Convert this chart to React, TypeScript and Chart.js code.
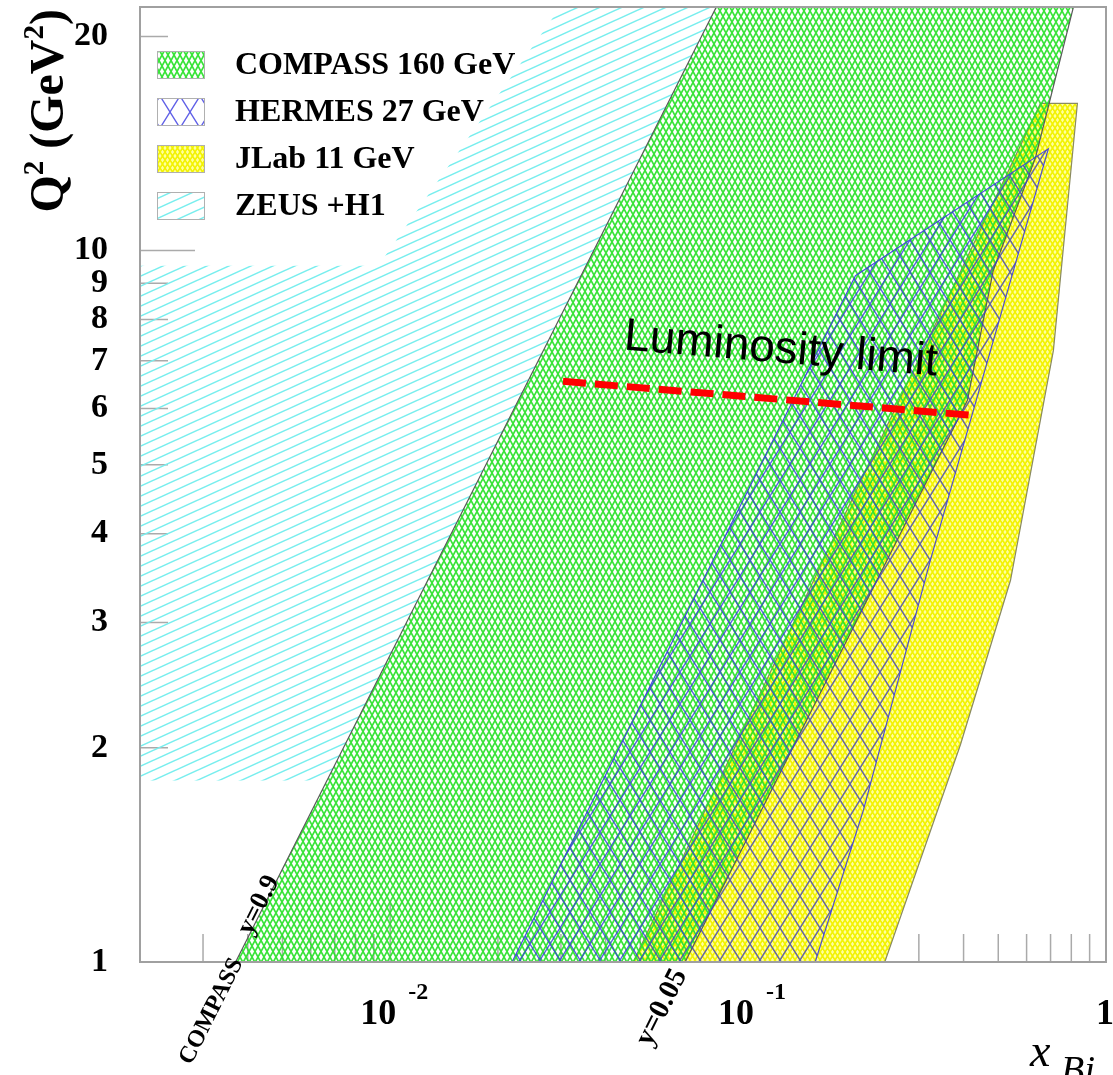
import React, { useEffect, useRef } from "react";
import { Chart, registerables } from "chart.js";

Chart.register(...registerables);

// ---------- axis ranges ----------
const xRange = [0.002, 1];
const q2Range = [1, 22];

// ---------- ticks ----------
const yTickValues = [1, 2, 3, 4, 5, 6, 7, 8, 9, 10, 20];
const yTickLabels = ["1", "2", "3", "4", "5", "6", "7", "8", "9", "10", "20"];
const yMajorTicks = [1, 10];
const xMajorTicks = [0.01, 0.1, 1];
const xMajorLabelBase = ["10", "10", "1"];
const xMajorLabelExp = ["-2", "-1", ""];
const xMinorTicks = [
  0.003, 0.004, 0.005, 0.006, 0.007, 0.008, 0.009,
  0.02, 0.03, 0.04, 0.05, 0.06, 0.07, 0.08, 0.09,
  0.2, 0.3, 0.4, 0.5, 0.6, 0.7, 0.8, 0.9,
];

// ---------- series (polygon outlines, x_Bj vs Q^2) ----------
const seriesNames = ["COMPASS 160 GeV", "HERMES 27 GeV", "JLab 11 GeV", "ZEUS +H1"];

const compassX = [0.0037, 0.0815, 0.811, 0.635, 0.484, 0.41, 0.0667, 0.0037];
const compassQ2 = [1, 22, 22, 13.5, 9.37, 6.16, 1, 1];

const hermesX = [0.0219, 0.1995, 0.69, 0.323, 0.21, 0.154, 0.0219];
const hermesQ2 = [1, 9.22, 13.9, 3.67, 1.635, 1, 1];

const jlabX = [0.0478, 0.08, 0.162, 0.656, 0.832, 0.713, 0.541, 0.392, 0.241, 0.0478];
const jlabQ2 = [1, 1.73, 3.67, 16.1, 16.1, 7.24, 3.44, 2.02, 1, 1];

const zeusX = [0.002, 0.002, 0.00926, 0.0299, 0.0815, 0.00667, 0.002];
const zeusQ2 = [1.8, 9.52, 9.52, 22, 22, 1.8, 1.8];

const lumiX = [0.0304, 0.418];
const lumiQ2 = [6.55, 5.87];

// ---------- annotation texts ----------
const compassLabel = "COMPASS";
const compassLabelAt = [0.0027, 0.72];
const y09Label = "y=0.9";
const y09LabelAt = [0.00404, 1.09];
const y005Label = "y=0.05";
const y005LabelAt = [0.0515, 0.765];
const lumiLabel = "Luminosity limit";
const lumiLabelAt = [0.0448, 7.26];

const SERIF = '"Liberation Serif", "Times New Roman", serif';

function pts(xs: number[], ys: number[]) {
  return xs.map((x, i) => ({ x, y: ys[i] }));
}

function crossHatch(ctx: CanvasRenderingContext2D, w: number, h: number, color: string, lw: number, bg?: string) {
  const c = document.createElement("canvas");
  c.width = w;
  c.height = h;
  const g = c.getContext("2d")!;
  if (bg) {
    g.fillStyle = bg;
    g.fillRect(0, 0, w, h);
  }
  g.strokeStyle = color;
  g.lineWidth = lw;
  g.beginPath();
  g.moveTo(-w, -h);
  g.lineTo(2 * w, 2 * h);
  g.moveTo(2 * w, -h);
  g.lineTo(-w, 2 * h);
  g.stroke();
  return ctx.createPattern(c, "repeat")!;
}

function hatch(ctx: CanvasRenderingContext2D, w: number, h: number, color: string, lw: number) {
  const c = document.createElement("canvas");
  c.width = w;
  c.height = h;
  const g = c.getContext("2d")!;
  g.strokeStyle = color;
  g.lineWidth = lw;
  g.beginPath();
  for (const dy of [-h, 0, h]) {
    g.moveTo(-w, 2 * h + dy);
    g.lineTo(2 * w, -h + dy);
  }
  g.stroke();
  return ctx.createPattern(c, "repeat")!;
}

export default function App() {
  const ref = useRef<HTMLCanvasElement | null>(null);

  useEffect(() => {
    const canvas = ref.current!;
    const ctx0 = canvas.getContext("2d")!;
    const pGreen = crossHatch(ctx0, 6, 11, "rgba(40,225,40,0.92)", 1.7);
    const pBlue = crossHatch(ctx0, 20, 32, "rgba(55,55,225,0.8)", 1.4);
    const pYellow = crossHatch(ctx0, 5, 8, "#f2f200", 1.6, "#ffff9c");
    const pCyan = hatch(ctx0, 22, 10, "#78eeee", 1.5);
    const legendFills = [pGreen, pBlue, pYellow, pCyan];

    const overlay = {
      id: "overlay",
      beforeDatasetsDraw(chart: any) {
        const { ctx, chartArea: a } = chart;
        const xs = chart.scales.x;
        const ys = chart.scales.y;
        ctx.save();
        ctx.strokeStyle = "#aaaaaa";
        ctx.lineWidth = 1.5;
        ctx.beginPath();
        for (const v of xMinorTicks) {
          const px = xs.getPixelForValue(v);
          ctx.moveTo(px, a.bottom);
          ctx.lineTo(px, a.bottom - 28);
        }
        for (const v of xMajorTicks) {
          const px = xs.getPixelForValue(v);
          ctx.moveTo(px, a.bottom);
          ctx.lineTo(px, a.bottom - 58);
        }
        for (const v of yTickValues) {
          const py = ys.getPixelForValue(v);
          const len = yMajorTicks.includes(v) ? 55 : 28;
          ctx.moveTo(a.left, py);
          ctx.lineTo(a.left + len, py);
        }
        ctx.stroke();
        ctx.restore();
      },
      afterDraw(chart: any) {
        const { ctx, chartArea: a } = chart;
        const xs = chart.scales.x;
        const ys = chart.scales.y;
        const P = (x: number, y: number) => [xs.getPixelForValue(x), ys.getPixelForValue(y)];
        ctx.save();
        // frame
        ctx.strokeStyle = "#a0a0a0";
        ctx.lineWidth = 2;
        ctx.strokeRect(a.left, a.top, a.right - a.left, a.bottom - a.top);

        ctx.fillStyle = "#000";
        // x labels
        xMajorTicks.forEach((v, i) => {
          const px = xs.getPixelForValue(v);
          const base = xMajorLabelBase[i];
          const exp = xMajorLabelExp[i];
          ctx.font = `bold 36px ${SERIF}`;
          const wb = ctx.measureText(base).width;
          ctx.font = `bold 24px ${SERIF}`;
          const we = exp ? ctx.measureText(exp).width : 0;
          const gap = exp ? 12 : 0;
          const total = wb + gap + we;
          const x0 = px - total / 2 + (exp ? 4 : -1);
          ctx.textAlign = "left";
          ctx.textBaseline = "alphabetic";
          ctx.font = `bold 36px ${SERIF}`;
          ctx.fillText(base, x0, a.bottom + 62);
          if (exp) {
            ctx.font = `bold 24px ${SERIF}`;
            ctx.fillText(exp, x0 + wb + gap, a.bottom + 37);
          }
        });

        // x title  x_{Bj}
        ctx.textAlign = "left";
        ctx.textBaseline = "alphabetic";
        ctx.font = `italic 46px ${SERIF}`;
        ctx.fillText("x", 1030, 1066);
        ctx.font = `italic 38px ${SERIF}`;
        ctx.fillText("Bj", 1061, 1082);

        // y title Q^2 (GeV^2)
        ctx.save();
        ctx.translate(63, a.top + 2);
        ctx.rotate(-Math.PI / 2);
        const big = `bold 48px ${SERIF}`;
        const sup = `bold 29px ${SERIF}`;
        const pieces = [
          { t: "Q", f: big, dy: 0 },
          { t: "2", f: sup, dy: -20 },
          { t: " (GeV", f: big, dy: 0 },
          { t: "2", f: sup, dy: -20 },
          { t: ")", f: big, dy: 0 },
        ];
        let total = 0;
        for (const p of pieces) {
          ctx.font = p.f;
          total += ctx.measureText(p.t).width;
        }
        let u = -total;
        ctx.textAlign = "left";
        for (const p of pieces) {
          ctx.font = p.f;
          ctx.fillText(p.t, u, p.dy);
          u += ctx.measureText(p.t).width;
        }
        ctx.restore();

        // rotated labels along lines
        const rot = (text: string, at: number[], p1: number[], p2: number[], font: string, off: number) => {
          const [ax, ay] = P(at[0], at[1]);
          const [x1, y1] = P(p1[0], p1[1]);
          const [x2, y2] = P(p2[0], p2[1]);
          const ang = Math.atan2(y2 - y1, x2 - x1);
          ctx.save();
          ctx.translate(ax, ay);
          ctx.rotate(ang);
          ctx.font = font;
          ctx.textAlign = "left";
          ctx.textBaseline = "alphabetic";
          ctx.fillText(text, 0, off);
          ctx.restore();
        };
        const c0 = [compassX[0], compassQ2[0]];
        const c1 = [compassX[1], compassQ2[1]];
        rot(compassLabel, compassLabelAt, c0, c1, `bold 24px ${SERIF}`, 5);
        rot(y09Label, y09LabelAt, c0, c1, `bold 27px ${SERIF}`, 2);
        rot(y005Label, y005LabelAt, [compassX[6], compassQ2[6]], [compassX[5], compassQ2[5]], `bold 29px ${SERIF}`, 6);
        rot(lumiLabel, lumiLabelAt, [lumiX[0], lumiQ2[0]], [lumiX[1], lumiQ2[1]], `46px "Liberation Sans", Arial, sans-serif`, 0);

        // legend
        seriesNames.forEach((name, i) => {
          const cy = a.top + 58 + 47 * i;
          const bx = a.left + 17;
          ctx.fillStyle = "#ffffff";
          ctx.fillRect(bx, cy - 14, 48, 28);
          ctx.fillStyle = legendFills[i];
          ctx.fillRect(bx, cy - 14, 48, 28);
          ctx.strokeStyle = "#b0b0b0";
          ctx.lineWidth = 1;
          ctx.strokeRect(bx + 0.5, cy - 13.5, 47, 27);
          ctx.fillStyle = "#000";
          ctx.font = `bold 32px ${SERIF}`;
          ctx.textAlign = "left";
          ctx.textBaseline = "middle";
          ctx.fillText(name, a.left + 95, cy + 1);
        });
        ctx.restore();
      },
    };

    const chart = new Chart(canvas, {
      type: "line",
      data: {
        datasets: [
          {
            label: "Luminosity limit",
            data: pts(lumiX, lumiQ2),
            borderColor: "#ff0000",
            borderWidth: 7,
            borderDash: [23, 9],
            fill: false,
            pointRadius: 0,
            order: 0,
          },
          {
            label: seriesNames[1],
            data: pts(hermesX, hermesQ2),
            backgroundColor: pBlue,
            borderColor: "rgba(60,60,225,0.9)",
            borderWidth: 1.2,
            fill: "shape",
            pointRadius: 0,
            order: 1,
          },
          {
            label: seriesNames[0],
            data: pts(compassX, compassQ2),
            backgroundColor: pGreen,
            borderColor: "#5a5a5a",
            borderWidth: 1.2,
            fill: "shape",
            pointRadius: 0,
            order: 2,
          },
          {
            label: seriesNames[2],
            data: pts(jlabX, jlabQ2),
            backgroundColor: pYellow,
            borderColor: "#8a8a60",
            borderWidth: 1.2,
            fill: "shape",
            pointRadius: 0,
            order: 3,
          },
          {
            label: seriesNames[3],
            data: pts(zeusX, zeusQ2),
            backgroundColor: pCyan,
            borderColor: "rgba(0,0,0,0)",
            borderWidth: 0,
            fill: "shape",
            pointRadius: 0,
            order: 4,
          },
        ],
      },
      options: {
        animation: false,
        responsive: true,
        maintainAspectRatio: false,
        indexAxis: "y",
        layout: { padding: { top: 7, right: 7, left: 0, bottom: 0 } },
        plugins: { legend: { display: false }, tooltip: { enabled: false } },
        elements: { line: { tension: 0 }, point: { radius: 0 } },
        scales: {
          x: {
            type: "logarithmic",
            position: "bottom",
            min: xRange[0],
            max: xRange[1],
            grid: { display: false, drawTicks: false },
            border: { display: false },
            ticks: { display: false },
            afterBuildTicks: (s: any) => {
              s.ticks = xMajorTicks.map((v) => ({ value: v }));
            },
            afterFit: (s: any) => {
              s.height = 113;
              s.paddingLeft = 0;
              s.paddingRight = 0;
            },
          },
          y: {
            type: "logarithmic",
            position: "left",
            min: q2Range[0],
            max: q2Range[1],
            grid: { display: false, drawTicks: false },
            border: { display: false },
            ticks: {
              autoSkip: false,
              padding: 32,
              color: "#000",
              font: { family: "Liberation Serif", size: 34, weight: "bold" },
              callback: (v: any) => {
                const i = yTickValues.indexOf(Number(v));
                return i >= 0 ? yTickLabels[i] : "";
              },
            },
            afterBuildTicks: (s: any) => {
              s.ticks = yTickValues.map((v) => ({ value: v }));
            },
            afterFit: (s: any) => {
              s.width = 140;
              s.paddingTop = 0;
              s.paddingBottom = 0;
            },
          },
        },
      } as any,
      plugins: [overlay],
    });
    return () => chart.destroy();
  }, []);

  return (
    <div style={{ position: "fixed", left: 0, top: 0, width: 1113, height: 1075, background: "#fff" }}>
      <canvas ref={ref} />
    </div>
  );
}
